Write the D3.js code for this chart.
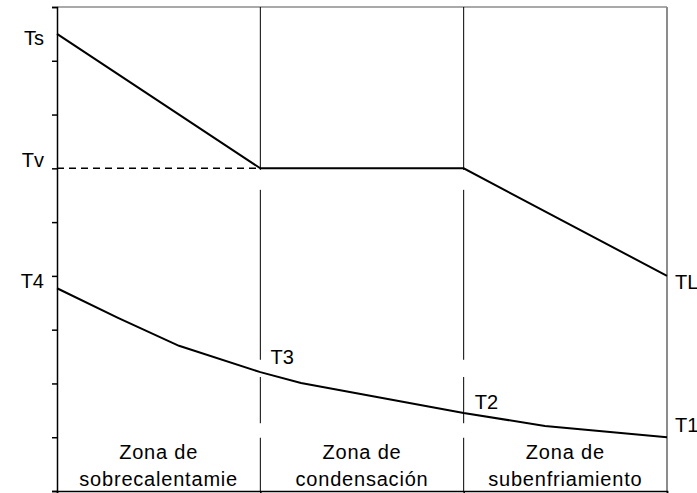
<!DOCTYPE html>
<html>
<head>
<meta charset="utf-8">
<script src="https://cdn.jsdelivr.net/npm/d3@7"></script>
<style>
    body { margin: 0; background: #fff; }
    text { font-family: Arial, "Liberation Sans", sans-serif; fill: #000; }
</style>
</head>
<body>
<div id="chart"></div>
<script>
// x runs 0..30 (three zones of 10), y runs 0..9 (one unit per tick)
const zoneNames = [["Zona de", "sobrecalentamie"], ["Zona de", "condensación"], ["Zona de", "subenfriamiento"]];
const zoneBounds = [10, 20];

// hot stream (refrigerant) and cold stream
const hotX = [0, 10, 20, 30];
const hotY = [8.5, 6, 6, 4];
const coldX = [0, 3, 6, 10, 12, 16, 20, 24, 30];
const coldY = [3.77, 3.22, 2.70, 2.21, 2.01, 1.73, 1.45, 1.21, 1.0];

// the dividers are broken in a few places
const dividerPieces = [[9, 5.97], [5.6, 2.44], [2.12, 1.26], [0.99, 0]];

const pointLabels = [
    { text: "Ts", x: 0, y: 8.42, side: "left" },
    { text: "Tv", x: 0, y: 6.15, side: "left" },
    { text: "T4", x: 0, y: 3.9, side: "left" },
    { text: "TL", x: 30, y: 3.89, side: "right" },
    { text: "T1", x: 30, y: 1.23, side: "right" },
    { text: "T3", x: 10.5, y: 2.49, side: "in" },
    { text: "T2", x: 20.55, y: 1.65, side: "in" }
];

const margin = { top: 7, right: 30, bottom: 2, left: 57 };
const width = 697 - margin.left - margin.right;
const height = 493 - margin.top - margin.bottom;

const svg = d3.select("#chart").append("svg")
    .attr("width", 697)
    .attr("height", 493)
    .append("g")
    .attr("transform", `translate(${margin.left},${margin.top})`);

const x = d3.scaleLinear().domain([0, 30]).range([0, width]);
const y = d3.scaleLinear().domain([0, 9]).range([height, 0]);

// gray frame on top and right
svg.append("line")
    .attr("x1", 0).attr("x2", width).attr("y1", 0).attr("y2", 0)
    .attr("stroke", "#8c8c8c").attr("stroke-width", 1.5);
svg.append("line")
    .attr("x1", width).attr("x2", width).attr("y1", 0).attr("y2", height)
    .attr("stroke", "#8c8c8c").attr("stroke-width", 2);

// zone dividers
zoneBounds.forEach(b => {
    dividerPieces.forEach(p => {
        svg.append("line")
            .attr("x1", x(b)).attr("x2", x(b))
            .attr("y1", y(p[0])).attr("y2", y(p[1]))
            .attr("stroke", "#000").attr("stroke-width", 1);
    });
});

// axes
const yAxis = d3.axisLeft(y).tickValues(d3.range(0, 10)).tickSize(5).tickFormat("");
const xAxis = d3.axisBottom(x).tickValues([0, 10, 20, 30]).tickSize(5).tickFormat("");

svg.append("g").attr("class", "y-axis").call(yAxis)
    .call(g => g.selectAll("line, path").attr("stroke", "#000").attr("stroke-width", 1.5));
svg.append("g").attr("class", "x-axis").attr("transform", `translate(0,${height})`).call(xAxis)
    .call(g => g.selectAll("line, path").attr("stroke", "#000").attr("stroke-width", 1.5));

// dashed Tv reference
svg.append("line")
    .attr("x1", x(0)).attr("x2", x(zoneBounds[0]))
    .attr("y1", y(hotY[1])).attr("y2", y(hotY[1]))
    .attr("stroke", "#000").attr("stroke-width", 1.5)
    .attr("stroke-dasharray", "7,5");

const line = d3.line().x(d => x(d[0])).y(d => y(d[1]));

svg.append("path")
    .datum(d3.zip(hotX, hotY))
    .attr("d", line)
    .attr("fill", "none").attr("stroke", "#000").attr("stroke-width", 2);

svg.append("path")
    .datum(d3.zip(coldX, coldY))
    .attr("d", line)
    .attr("fill", "none").attr("stroke", "#000").attr("stroke-width", 2);

// point labels
svg.selectAll(".pt-label").data(pointLabels).enter().append("text")
    .attr("class", "pt-label")
    .attr("x", d => d.side === "left" ? x(d.x) - 13 : d.side === "right" ? x(d.x) + 8 : x(d.x))
    .attr("y", d => y(d.y))
    .attr("dy", "0.35em")
    .attr("text-anchor", d => d.side === "left" ? "end" : "start")
    .style("font-size", "20px")
    .text(d => d.text);

// zone names
const zoneCenters = [5, 15, 25];
zoneNames.forEach((lines, i) => {
    lines.forEach((t, j) => {
        svg.append("text")
            .attr("x", x(zoneCenters[i]))
            .attr("y", height - 39 + j * 27)
            .attr("dy", "0.35em")
            .attr("text-anchor", "middle")
            .style("font-size", "20px")
            .style("letter-spacing", "0.8px")
            .text(t);
    });
});
</script>
</body>
</html>
